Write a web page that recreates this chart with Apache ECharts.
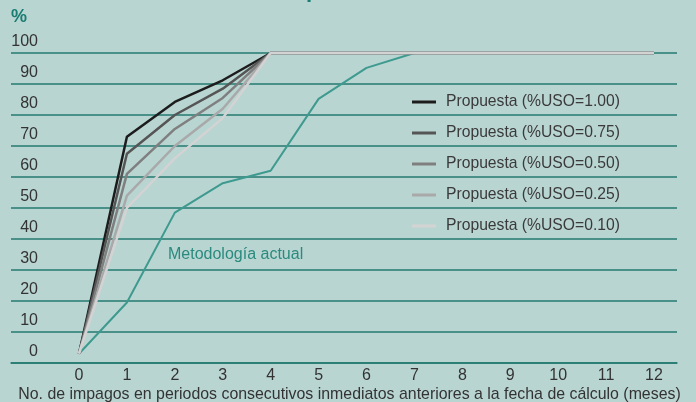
<!DOCTYPE html>
<html>
<head>
<meta charset="utf-8">
<script src="https://cdn.jsdelivr.net/npm/echarts@6/dist/echarts.min.js"></script>
<style>
html,body{margin:0;padding:0;background:#b9d5d2;}
#c{width:696px;height:402px;}
</style>
</head>
<body>
<div id="c"></div>
<script>
var xTicks = [0,1,2,3,4,5,6,7,8,9,10,11,12];
var yTicks = [0,10,20,30,40,50,60,70,80,90,100];
var uso100 = [3, 73, 84.2, 91.2, 100, 100, 100, 100, 100, 100, 100, 100, 100];
var uso075 = [3, 67.5, 80, 88.5, 100, 100, 100, 100, 100, 100, 100, 100, 100];
var uso050 = [3, 61, 75.5, 85.5, 100, 100, 100, 100, 100, 100, 100, 100, 100];
var uso025 = [3, 54, 70, 82, 100, 100, 100, 100, 100, 100, 100, 100, 100];
var uso010 = [3, 50, 66, 79, 100, 100, 100, 100, 100, 100, 100, 100, 100];
var actual = [3, 19.5, 48.5, 58, 62, 85.2, 95.2, 100, 100, 100, 100, 100, 100];
var seriesNames = ['Propuesta (%USO=1.00)','Propuesta (%USO=0.75)','Propuesta (%USO=0.50)','Propuesta (%USO=0.25)','Propuesta (%USO=0.10)'];
var actualName = 'Metodología actual';
var xName = 'No. de impagos en periodos consecutivos inmediatos anteriores a la fecha de cálculo (meses)';

var FONT = 'Liberation Sans';
var TEAL = '#23796f';
function pairs(arr){ return arr.map(function(v,i){ return [xTicks[i], v]; }); }
var greyColors = ['#1c1c1c','#555555','#7f7f7f','#a9a9a9','#d3d3d3'];
var greyData = [uso100, uso075, uso050, uso025, uso010];

var series = [{
  name: actualName, type:'line', data: pairs(actual), symbol:'none', clip:false,
  lineStyle:{color:'#3e9a8f', width:2}, itemStyle:{color:'#3e9a8f'}, z:2
}];
greyData.forEach(function(d,i){
  series.push({
    name: seriesNames[i], type:'line', data: pairs(d), symbol:'none', clip:false,
    color: greyColors[i],
    lineStyle:{color: greyColors[i], width:2.5}, z:3+i
  });
});

var chart = echarts.init(document.getElementById('c'), null, {renderer:'canvas'});
chart.setOption({
  backgroundColor:'#b9d5d2',
  animation:false,
  grid:{left:11, right:19, top:53, bottom:39, containLabel:false},
  xAxis:{
    type:'value', min:-1.419, max:12.48,
    axisLine:{show:true, lineStyle:{color:TEAL, width:1.5}},
    axisTick:{show:false},
    splitLine:{show:false},
    axisLabel:{customValues: xTicks, color:'#333', fontFamily:FONT, fontSize:16, margin:5}
  },
  yAxis:{
    type:'value', min:0, max:100, interval:10,
    axisLine:{show:false}, axisTick:{show:false},
    splitLine:{show:true, lineStyle:{color:TEAL, width:1.5}},
    axisLabel:{inside:true, align:'right', margin:27, verticalAlign:'bottom', padding:[0,0,3,0],
      color:'#333', fontFamily:FONT, fontSize:16, lineHeight:16}
  },
  legend:{
    data: seriesNames, orient:'vertical', left:412, top:94, padding:0,
    icon:'rect', itemWidth:24, itemHeight:3, itemGap:15,
    textStyle:{color:'#3a3a3a', fontFamily:FONT, fontSize:15.7, lineHeight:16, padding:[0,0,0,5]}
  },
  graphic:[
    {type:'text', left:11, top:8, style:{text:'%', fill:'#1a7d72', font:'bold 18px "Liberation Sans"'}},
    {type:'text', x:306, y:-8.6, style:{text:'p', fill:'#1a7d72', font:'bold 22px "Liberation Sans"', verticalAlign:'middle'}},
    {type:'text', x:168, y:255, style:{text:actualName, fill:'#2a8a7e', font:'16px "Liberation Sans"', verticalAlign:'middle'}},
    {type:'text', x:349.5, y:395, style:{text:xName, fill:'#333', font:'15.9px "Liberation Sans"', align:'center', verticalAlign:'middle'}}
  ],
  series: series
});
</script>
</body>
</html>
